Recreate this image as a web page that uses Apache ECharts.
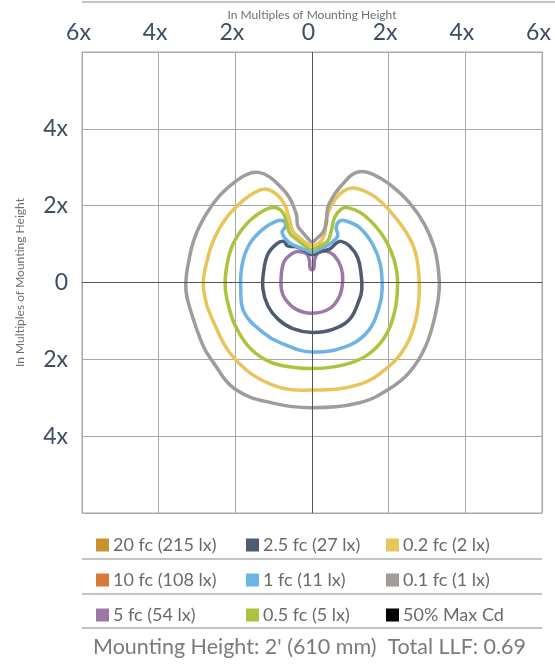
<!DOCTYPE html>
<html>
<head>
<meta charset="utf-8">
<script src="https://cdn.jsdelivr.net/npm/echarts@6/dist/echarts.min.js"></script>
<style>
  html, body { margin: 0; padding: 0; background: #fff; }
  #chart { width: 555px; height: 665px; }
</style>
</head>
<body>
<div id="chart"></div>
<script>
// isofootcandle contours [x, y] in multiples of mounting height
const contour01 = [[0,-3.26],[1.24,-3.13],[2.0,-2.78],[2.54,-2.34],[2.97,-1.65],[3.23,-0.78],[3.32,-0.17],[3.3,0.3],[3.19,0.91],[2.93,1.52],[2.54,2.08],[2.02,2.56],[1.58,2.82],[1.32,2.89],[1.06,2.82],[0.8,2.56],[0.59,2.3],[0.41,1.95],[0.37,1.52],[0.28,1.3],[0.12,1.14],[0,1.05],[-0.1,1.14],[-0.24,1.3],[-0.37,1.47],[-0.41,1.78],[-0.59,2.21],[-0.85,2.52],[-1.11,2.75],[-1.37,2.86],[-1.63,2.84],[-1.97,2.65],[-2.41,2.26],[-2.76,1.78],[-3.06,1.17],[-3.23,0.48],[-3.29,-0.17],[-3.15,-0.78],[-2.84,-1.65],[-2.63,-2.0],[-2.0,-2.78],[-1.02,-3.14]];
const contour02 = [[0,-2.8],[1.24,-2.65],[2.0,-2.19],[2.45,-1.65],[2.71,-0.96],[2.8,-0.17],[2.73,0.65],[2.54,1.17],[2.1,1.78],[1.67,2.21],[1.24,2.43],[0.98,2.45],[0.72,2.3],[0.5,2.0],[0.37,1.65],[0.33,1.26],[0.2,1.04],[0,0.95],[-0.11,1.0],[-0.33,1.17],[-0.5,1.34],[-0.59,1.65],[-0.72,2.04],[-0.93,2.3],[-1.19,2.43],[-1.45,2.37],[-1.8,2.13],[-2.23,1.69],[-2.54,1.17],[-2.76,0.48],[-2.83,-0.17],[-2.58,-1.0],[-2.0,-2.0],[-1.02,-2.67]];
const contour05 = [[0,-2.24],[0.8,-2.15],[1.41,-1.91],[1.89,-1.43],[2.15,-0.78],[2.23,-0.17],[2.21,0.3],[2.06,0.82],[1.76,1.34],[1.32,1.78],[0.93,1.95],[0.76,1.91],[0.59,1.69],[0.5,1.34],[0.41,1.08],[0.2,0.95],[0,0.86],[-0.15,0.93],[-0.41,1.13],[-0.59,1.3],[-0.66,1.56],[-0.76,1.82],[-0.98,1.95],[-1.28,1.86],[-1.71,1.52],[-2.06,1.0],[-2.23,0.39],[-2.26,-0.17],[-2.13,-0.78],[-2.0,-1.13],[-1.67,-1.65],[-1.24,-2.0],[-0.8,-2.16]];
const contour1 = [[0,-1.81],[0.98,-1.63],[1.5,-1.22],[1.76,-0.61],[1.83,-0.17],[1.78,0.48],[1.58,1.0],[1.24,1.43],[0.89,1.6],[0.72,1.6],[0.63,1.43],[0.67,1.21],[0.46,1.0],[0.2,0.87],[0,0.78],[-0.15,0.84],[-0.33,0.91],[-0.59,1.04],[-0.78,1.3],[-0.69,1.47],[-0.74,1.6],[-0.93,1.6],[-1.28,1.39],[-1.63,1.0],[-1.82,0.48],[-1.86,-0.17],[-1.77,-0.78],[-1.28,-1.3],[-0.85,-1.56]];
const contour25 = [[0,-1.3],[0.54,-1.22],[0.98,-0.96],[1.24,-0.43],[1.3,-0.17],[1.28,0.22],[1.19,0.65],[0.98,0.95],[0.76,1.07],[0.63,1.02],[0.46,0.87],[0.2,0.81],[0,0.72],[-0.2,0.84],[-0.41,0.93],[-0.63,0.95],[-0.74,1.07],[-0.93,1.0],[-1.15,0.74],[-1.26,0.3],[-1.28,-0.17],[-1.15,-0.61],[-0.88,-0.96],[-0.5,-1.2]];
const contour5 = [[0,-0.8],[0.46,-0.68],[0.72,-0.35],[0.8,0.05],[0.76,0.39],[0.59,0.69],[0.37,0.81],[0.15,0.76],[0.07,0.6],[0.05,0.38],[0,0.33],[-0.05,0.38],[-0.07,0.6],[-0.15,0.75],[-0.37,0.81],[-0.54,0.74],[-0.72,0.56],[-0.8,0.22],[-0.8,-0.17],[-0.7,-0.43],[-0.41,-0.7]];

// legend, column by column
const legendNames = [
  ['20 fc (215 lx)', '10 fc (108 lx)', '5 fc (54 lx)'],
  ['2.5 fc (27 lx)', '1 fc (11 lx)', '0.5 fc (5 lx)'],
  ['0.2 fc (2 lx)', '0.1 fc (1 lx)', '50% Max Cd']
];
const legendColors = {
  '20 fc (215 lx)': '#c8922e',
  '10 fc (108 lx)': '#d8793a',
  '5 fc (54 lx)': '#9b78a7',
  '2.5 fc (27 lx)': '#4d5b73',
  '1 fc (11 lx)': '#6db4e4',
  '0.5 fc (5 lx)': '#abc33d',
  '0.2 fc (2 lx)': '#e8c55b',
  '0.1 fc (1 lx)': '#a19c98',
  '50% Max Cd': '#000000'
};
const contours = {
  '0.1 fc (1 lx)': contour01,
  '0.2 fc (2 lx)': contour02,
  '0.5 fc (5 lx)': contour05,
  '1 fc (11 lx)': contour1,
  '2.5 fc (27 lx)': contour25,
  '5 fc (54 lx)': contour5
};
const footerText = "Mounting Height: 2' (610 mm)  Total LLF: 0.69";

const FONT = 'Lato, "Open Sans", sans-serif';
const tickFmt = (v) => v === 0 ? '0' : Math.abs(v) + 'x';

const chart = echarts.init(document.getElementById('chart'));

const series = [];
legendNames.flat().forEach((name) => {
  const pts = contours[name];
  const color = legendColors[name];
  if (!pts) {
    // level not reached: legend entry only
    series.push({ name: name, type: 'line', data: [], color: color, symbol: 'none' });
    return;
  }
  // closed contour, drawn as a smooth loop through the grid's own coords
  series.push({
    name: name,
    type: 'custom',
    color: color,
    silent: true,
    z: 3,
    data: pts,
    renderItem: (params, api) => {
      if (params.dataIndex !== 0) return;
      return {
        type: 'polygon',
        shape: { points: pts.map((p) => api.coord(p)), smooth: 0.4 },
        style: { fill: 'none', stroke: color, lineWidth: 3.5, lineJoin: 'round' }
      };
    }
  });
});
// the cross through the origin
series.push({
  type: 'line',
  data: [],
  silent: true,
  markLine: {
    silent: true,
    symbol: 'none',
    label: { show: false },
    lineStyle: { color: '#555', width: 1, type: 'solid' },
    data: [{ xAxis: 0 }, { yAxis: 0 }]
  },
  z: 2
});

const legends = legendNames.map((col, i) => ({
  orient: 'vertical',
  left: [91, 241, 381][i],
  top: 530,
  itemWidth: 13,
  itemHeight: 13,
  itemGap: 15,
  icon: 'rect',
  selectedMode: false,
  data: col.map((n) => ({ name: n, icon: 'rect', itemStyle: { color: legendColors[n], borderWidth: 0 } })),
  textStyle: { fontFamily: FONT, fontSize: 18, color: '#6a6a6a', lineHeight: 20, padding: [0, 0, 0, -1] }
}));

const sepLines = [559, 594, 628].map((y) => ({
  type: 'line',
  shape: { x1: 82, y1: y, x2: 542, y2: y },
  style: { stroke: '#b0b0b0', lineWidth: 1.5 }
}));

chart.setOption({
  animation: false,
  backgroundColor: '#fff',
  grid: {
    left: 82, top: 52, width: 460, height: 461,
    show: true, borderColor: '#a8a8a8', borderWidth: 1,
    outerBoundsMode: 'none'
  },
  xAxis: {
    type: 'value',
    position: 'top',
    min: -6, max: 6, interval: 2,
    name: 'In Multiples of Mounting Height',
    nameLocation: 'middle',
    nameGap: 31,
    nameMoveOverlap: false,
    nameTextStyle: { fontFamily: FONT, fontSize: 12, color: '#6f6f6f' },
    axisLine: { show: false },
    axisTick: { show: false },
    axisLabel: {
      formatter: tickFmt, fontFamily: FONT, fontSize: 23, color: '#3d4e64',
      margin: 8, padding: [0, 7, 0, 0]
    },
    splitLine: { show: true, lineStyle: { color: '#a8a8a8', width: 1 } }
  },
  yAxis: {
    type: 'value',
    min: -6, max: 6, interval: 2,
    name: 'In Multiples of Mounting Height',
    nameLocation: 'middle',
    nameGap: 56,
    nameMoveOverlap: false,
    nameTextStyle: { fontFamily: FONT, fontSize: 12, color: '#6f6f6f' },
    axisLine: { show: false },
    axisTick: { show: false },
    axisLabel: {
      formatter: (v) => Math.abs(v) === 6 ? '' : tickFmt(v),
      fontFamily: FONT, fontSize: 23, color: '#3d4e64', margin: 14
    },
    splitLine: { show: true, lineStyle: { color: '#a8a8a8', width: 1 } }
  },
  legend: legends,
  graphic: [
    {
      type: 'line',
      shape: { x1: 82, y1: 2, x2: 555, y2: 2 },
      style: { stroke: '#b0b0b0', lineWidth: 1.5 }
    },
    ...sepLines,
    {
      type: 'text',
      left: 93,
      top: 636,
      style: { text: footerText, fontFamily: FONT, fontSize: 21.5, fill: '#7a7a7a' }
    }
  ],
  series: series
});
</script>
</body>
</html>
